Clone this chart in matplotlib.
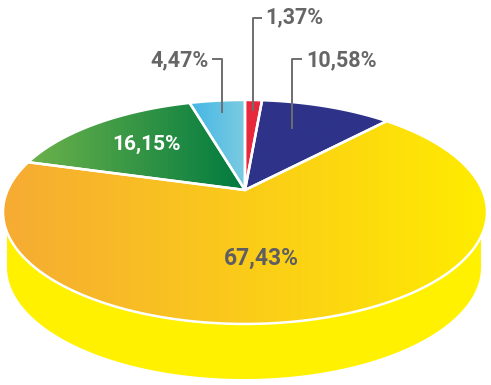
import numpy as np
import matplotlib.pyplot as plt
from matplotlib.patches import Polygon
from matplotlib.colors import LinearSegmentedColormap

# slice data, clockwise from 12 o'clock
labels = ['1,37%', '10,58%', '67,43%', '16,15%', '4,47%']
shares = [1.37, 10.58, 67.43, 16.15, 4.47]
grad_left = ['#e8283c', '#2e3389', '#f6ab33', '#6cb24a', '#44b7e6']
grad_right = ['#e8283c', '#2e3389', '#ffec00', '#007a40', '#7ccbe0']
side_color = '#fff100'

plt.rcParams['font.family'] = ['Roboto', 'DejaVu Sans']

fig = plt.figure(figsize=(4.91, 3.85), dpi=100)
ax = fig.add_axes([0, 0, 1, 1])
ax.set_xlim(0, 491)
ax.set_ylim(385, 0)
ax.axis('off')

# perspective projection of the unit disc onto the top face
cx, cy = 245, 190
A, B, k = 237.3, 107.7, 0.196


def proj(theta):
    u, v = np.cos(theta), np.sin(theta)
    w = 1 + k * v
    return cx + A * u / w, cy - B * v / w


# side wall (only the yellow slice is visible there)
t = np.linspace(0, np.pi, 200)
bx = 244 + 237 * np.cos(t)
by = 267 + 112 * np.sin(t)
side = np.vstack([[481, 212], np.column_stack([bx, by]), [7, 212]])
ax.add_patch(Polygon(side, closed=True, fc=side_color, ec='none', zorder=1))

# top face slices
start = 90.0
for i, s in enumerate(shares):
    end = start - s * 3.6
    th = np.radians(np.linspace(start, end, 120))
    px, py = proj(th)
    pts = np.vstack([[cx, cy], np.column_stack([px, py])])
    poly = Polygon(pts, closed=True, fc='none', ec='white', lw=1.8, zorder=3,
                   joinstyle='round')
    ax.add_patch(poly)
    x0, x1 = pts[:, 0].min(), pts[:, 0].max()
    y0, y1 = pts[:, 1].min(), pts[:, 1].max()
    cmap = LinearSegmentedColormap.from_list('g%d' % i, [grad_left[i], grad_right[i]])
    im = ax.imshow(np.linspace(0, 1, 256)[None, :], cmap=cmap, aspect='auto',
                   extent=(x0, x1, y1, y0), zorder=2, interpolation='bilinear')
    clip = Polygon(pts, closed=True, transform=ax.transData)
    im.set_clip_path(clip)
    start = end

ax.set_xlim(0, 491)
ax.set_ylim(385, 0)

gray = '#666666'
line_kw = dict(color='#6e6e6e', lw=1.4, zorder=4, solid_capstyle='butt')

# leader lines
ax.plot([253, 253, 262], [111, 18, 18], **line_kw)
ax.plot([222, 222, 212], [113, 59, 59], **line_kw)
ax.plot([292, 292, 302], [129, 59, 59], **line_kw)

txt_kw = dict(fontweight='bold', va='center', zorder=5)
ax.text(265, 17, labels[0], color=gray, fontsize=15.5, ha='left', **txt_kw)
ax.text(306, 60, labels[1], color=gray, fontsize=15.5, ha='left', **txt_kw)
ax.text(261, 258, labels[2], color='#5e5e62', fontsize=16.5, ha='center', **txt_kw)
ax.text(147, 144, labels[3], color='white', fontsize=15, ha='center', **txt_kw)
ax.text(209, 60, labels[4], color=gray, fontsize=15.5, ha='right', **txt_kw)

fig.savefig('out.png', dpi=100)
